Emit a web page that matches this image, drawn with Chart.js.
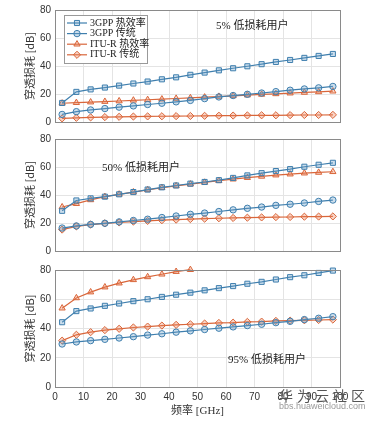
<!DOCTYPE html>
<html>
<head>
<meta charset="utf-8">
<script src="https://cdn.jsdelivr.net/npm/chart.js@4/dist/chart.umd.min.js"></script>
<style>
  body { margin: 0; background: #fff; }
  #wrap { position: relative; width: 376px; height: 422px; overflow: hidden; background: #fff; }
  #wrap canvas { position: absolute; left: 0; }
  .note { position: absolute; font: 11px 'Liberation Serif', 'Noto Sans CJK SC', serif; color: #222; white-space: nowrap; }
  .wm1 { position: absolute; left: 279px; top: 385px; font: 14px 'Noto Sans CJK SC', sans-serif; color: #555; letter-spacing: 4px; white-space: nowrap; }
  .wm2 { position: absolute; left: 279px; top: 401px; font: 9px 'Liberation Sans', Arial, sans-serif; color: #999; white-space: nowrap; }
</style>
</head>
<body>
<div id="wrap">
  <canvas id="c1" width="376" height="132" style="top:0px"></canvas>
  <canvas id="c2" width="376" height="132" style="top:129px"></canvas>
  <canvas id="c3" width="376" height="162" style="top:260px"></canvas>
  <div class="note" style="left:216px; top:16px">5% 低损耗用户</div>
  <div class="note" style="left:102px; top:158px">50% 低损耗用户</div>
  <div class="note" style="left:228px; top:350px">95% 低损耗用户</div>
  <div class="wm1">华为云社区</div>
  <div class="wm2">bbs.huaweicloud.com</div>
</div>
<script>
// 频率点 (GHz)
const freq = [2.5, 7.5, 12.5, 17.5, 22.5, 27.5, 32.5, 37.5, 42.5, 47.5,
              52.5, 57.5, 62.5, 67.5, 72.5, 77.5, 82.5, 87.5, 92.5, 97.5];
const seriesNames = ['3GPP 热效率', '3GPP 传统', 'ITU-R 热效率', 'ITU-R 传统'];
const yTicks = [0, 20, 40, 60, 80];
const xTicks = [0, 10, 20, 30, 40, 50, 60, 70, 80, 90, 100];

// 5% 低损耗用户
const gppHi5 = [13.6, 21.5, 23.3, 24.6, 26.0, 27.5, 28.9, 30.5, 31.9, 33.7, 35.3, 36.9, 38.4, 39.8, 41.3, 42.9, 44.3, 45.8, 47.2, 48.6];
const gppTr5 = [5.4, 7.4, 8.6, 9.6, 10.6, 11.5, 12.5, 13.4, 14.4, 15.4, 16.7, 17.9, 18.9, 19.8, 20.7, 21.7, 22.7, 23.6, 24.4, 25.4];
const ituHi5 = [13.4, 13.8, 14.2, 14.6, 15.0, 15.5, 15.9, 16.3, 16.8, 17.2, 17.7, 18.2, 18.7, 19.2, 19.7, 20.1, 20.6, 21.1, 21.5, 22.0];
const ituTr5 = [2.6, 3.0, 3.3, 3.5, 3.7, 3.9, 4.0, 4.1, 4.2, 4.3, 4.4, 4.5, 4.6, 4.7, 4.8, 4.8, 4.9, 5.0, 5.0, 5.1];

// 50% 低损耗用户
const gppHi50 = [28.7, 36.1, 37.6, 38.8, 40.5, 42.1, 43.9, 45.5, 46.8, 48.1, 49.3, 50.6, 52.2, 54.0, 55.6, 57.1, 58.5, 60.2, 61.6, 63.0];
const gppTr50 = [16.4, 17.9, 19.0, 19.8, 20.8, 21.8, 22.7, 23.9, 25.0, 26.2, 27.1, 28.2, 29.4, 30.5, 31.4, 32.6, 33.4, 34.3, 35.4, 36.4];
const ituHi50 = [31.4, 33.8, 36.5, 38.8, 40.5, 42.1, 43.7, 45.2, 46.5, 47.7, 49.0, 50.2, 51.3, 52.4, 53.3, 54.2, 54.9, 55.6, 56.1, 56.6];
const ituTr50 = [15.3, 17.6, 18.9, 19.7, 20.4, 21.0, 21.5, 22.0, 22.4, 22.8, 23.1, 23.4, 23.6, 23.8, 24.0, 24.2, 24.3, 24.5, 24.6, 24.7];

// 95% 低损耗用户 (ITU-R 热效率 超出 80 dB 后不可见)
const gppHi95 = [44.3, 51.9, 53.7, 55.5, 57.1, 58.7, 60.0, 61.6, 63.1, 64.5, 66.1, 67.6, 69.0, 70.6, 71.9, 73.5, 75.1, 76.4, 78.0, 79.6];
const gppTr95 = [29.4, 30.8, 31.7, 32.6, 33.5, 34.4, 35.5, 36.4, 37.5, 38.4, 39.3, 40.2, 41.1, 42.0, 42.9, 44.0, 44.9, 46.1, 47.0, 48.1];
const ituHi95 = [53.9, 60.9, 64.9, 68.3, 71.0, 73.3, 75.3, 77.1, 78.9, 80.2];
const ituTr95 = [31.7, 35.7, 37.5, 38.9, 39.8, 40.7, 41.3, 42.0, 42.5, 42.9, 43.4, 43.8, 44.0, 44.5, 44.7, 45.2, 45.4, 45.6, 45.8, 46.1];

const BLUE = '#3f7fae', BLUE_FILL = 'rgba(110,160,200,0.35)';
const ORANGE = '#d9663a', ORANGE_FILL = 'rgba(235,130,90,0.35)';
const styles = [
  { color: BLUE, fill: BLUE_FILL, point: 'rect', r: 3.6 },
  { color: BLUE, fill: BLUE_FILL, point: 'circle', r: 3.2 },
  { color: ORANGE, fill: ORANGE_FILL, point: 'triangle', r: 3.6 },
  { color: ORANGE, fill: ORANGE_FILL, point: 'rectRot', r: 3.6 }
];

function toPoints(vals) {
  return vals.map((v, i) => ({ x: freq[i], y: v }));
}

function makeDatasets(arrs) {
  return arrs.map((vals, k) => ({
    label: seriesNames[k],
    data: toPoints(vals),
    borderColor: styles[k].color,
    borderWidth: 1.2,
    pointStyle: styles[k].point,
    pointRadius: styles[k].r,
    pointBorderWidth: 1,
    pointBorderColor: styles[k].color,
    pointBackgroundColor: styles[k].fill,
    tension: 0,
    clip: 6
  }));
}

// 边框 (MATLAB box on)
const boxPlugin = {
  id: 'box',
  afterDraw(chart) {
    const { ctx, chartArea: a } = chart;
    ctx.save();
    ctx.strokeStyle = '#8a8a8a';
    ctx.lineWidth = 1;
    ctx.strokeRect(Math.round(a.left) + 0.5, Math.round(a.top) + 0.5, Math.round(a.right - a.left), Math.round(a.bottom - a.top));
    ctx.restore();
  }
};

function drawMarker(ctx, style, x, y) {
  const r = style.r;
  ctx.beginPath();
  if (style.point === 'rect') {
    const s = r * Math.SQRT1_2;
    ctx.rect(x - s, y - s, 2 * s, 2 * s);
  } else if (style.point === 'circle') {
    ctx.arc(x, y, r, 0, Math.PI * 2);
  } else if (style.point === 'triangle') {
    ctx.moveTo(x, y - r);
    ctx.lineTo(x + r * 0.87, y + r * 0.5);
    ctx.lineTo(x - r * 0.87, y + r * 0.5);
    ctx.closePath();
  } else {
    ctx.moveTo(x, y - r);
    ctx.lineTo(x + r, y);
    ctx.lineTo(x, y + r);
    ctx.lineTo(x - r, y);
    ctx.closePath();
  }
  ctx.fillStyle = style.fill;
  ctx.fill();
  ctx.strokeStyle = style.color;
  ctx.lineWidth = 1;
  ctx.stroke();
}

// 图例框 (只在第一张图)
const legendBoxPlugin = {
  id: 'legendBox',
  afterDraw(chart) {
    const ctx = chart.ctx;
    ctx.save();
    ctx.fillStyle = '#fff';
    ctx.fillRect(64, 15, 83, 48);
    ctx.strokeStyle = '#999';
    ctx.strokeRect(64.5, 15.5, 83, 48);
    ctx.font = "10px 'Liberation Serif', 'Noto Sans CJK SC', serif";
    ctx.textBaseline = 'middle';
    seriesNames.forEach((name, k) => {
      const y = 23 + k * 10.6;
      ctx.strokeStyle = styles[k].color;
      ctx.lineWidth = 1.2;
      ctx.beginPath();
      ctx.moveTo(67, y);
      ctx.lineTo(87, y);
      ctx.stroke();
      drawMarker(ctx, styles[k], 77, y);
      ctx.fillStyle = '#222';
      ctx.fillText(name, 90, y);
    });
    ctx.restore();
  }
};

function makeChart(id, arrs, bottomAxis, extraPlugins) {
  const canvas = document.getElementById(id);
  return new Chart(canvas, {
    type: 'line',
    data: { datasets: makeDatasets(arrs) },
    options: {
      responsive: false,
      animation: false,
      layout: { padding: { top: 8, right: 36, bottom: bottomAxis ? 0 : 6, left: 0 } },
      plugins: { legend: { display: false }, tooltip: { enabled: false } },
      scales: {
        x: {
          type: 'linear',
          min: 0, max: 100,
          afterBuildTicks: s => { s.ticks = xTicks.map(v => ({ value: v })); },
          afterFit: s => { s.height = bottomAxis ? 35 : 0; },
          grid: { color: '#e4e4e4', drawTicks: false },
          border: { display: false },
          ticks: {
            display: bottomAxis,
            padding: 4,
            color: '#333',
            maxRotation: 0,
            font: { family: "'Liberation Sans', Arial, sans-serif", size: 10 }
          },
          title: {
            display: bottomAxis,
            text: '频率 [GHz]',
            color: '#333',
            padding: { top: 0, bottom: 4 },
            font: { family: "'Liberation Serif', 'Noto Sans CJK SC', serif", size: 11 }
          }
        },
        y: {
          min: 0, max: 80,
          afterBuildTicks: s => { s.ticks = yTicks.map(v => ({ value: v })); },
          afterFit: s => { s.width = 55; },
          grid: { color: '#e4e4e4', drawTicks: false },
          border: { display: false },
          ticks: {
            padding: 4,
            color: '#333',
            font: { family: "'Liberation Sans', Arial, sans-serif", size: 10 }
          },
          title: {
            display: true,
            text: '穿透损耗 [dB]',
            color: '#333',
            padding: { top: 23, bottom: 0 },
            font: { family: "'Noto Sans CJK SC', sans-serif", size: 11 }
          }
        }
      }
    },
    plugins: [boxPlugin].concat(extraPlugins || [])
  });
}

makeChart('c1', [gppHi5, gppTr5, ituHi5, ituTr5], false, [legendBoxPlugin]);
makeChart('c2', [gppHi50, gppTr50, ituHi50, ituTr50], false);
makeChart('c3', [gppHi95, gppTr95, ituHi95, ituTr95], true);
</script>
</body>
</html>
